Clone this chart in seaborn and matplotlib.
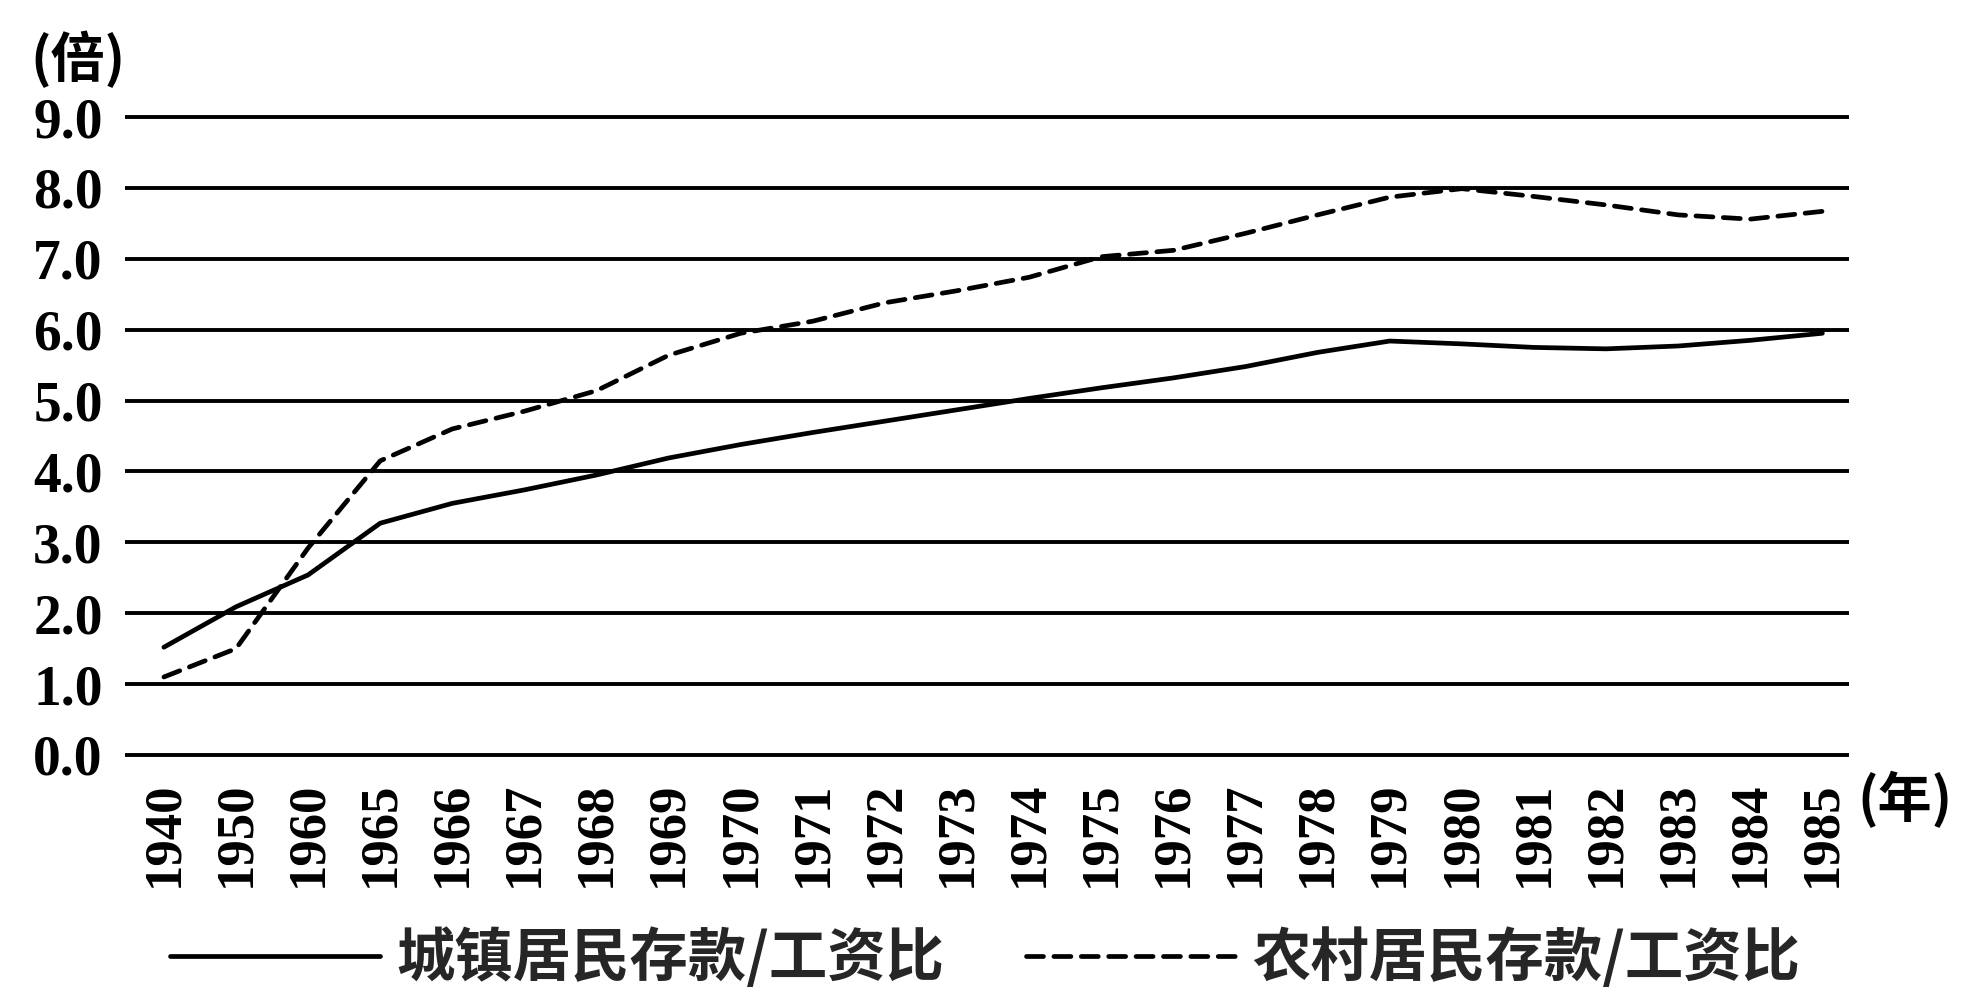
import pandas as pd
import matplotlib
matplotlib.use('Agg')
import matplotlib.pyplot as plt
import seaborn as sns
from matplotlib.font_manager import FontProperties

# Data
years = ['1940', '1950', '1960', '1965', '1966', '1967', '1968', '1969',
         '1970', '1971', '1972', '1973', '1974', '1975', '1976', '1977',
         '1978', '1979', '1980', '1981', '1982', '1983', '1984', '1985']
urban = [1.52, 2.09, 2.54, 3.27, 3.55, 3.74, 3.95, 4.19,
         4.38, 4.55, 4.71, 4.87, 5.03, 5.18, 5.32, 5.48,
         5.68, 5.84, 5.80, 5.75, 5.73, 5.77, 5.85, 5.95]
rural = [1.10, 1.50, 2.92, 4.15, 4.60, 4.85, 5.14, 5.64,
         5.95, 6.12, 6.38, 6.55, 6.74, 7.03, 7.12, 7.36,
         7.62, 7.87, 7.99, 7.88, 7.76, 7.62, 7.56, 7.67]
urban_name = '城镇居民存款/工资比'
rural_name = '农村居民存款/工资比'
y_ticks = [0, 1, 2, 3, 4, 5, 6, 7, 8, 9]

df = pd.DataFrame({
    'year': years * 2,
    'ratio': urban + rural,
    'series': [urban_name] * len(years) + [rural_name] * len(years),
})

sns.set_theme(style='white')
plt.rcParams['font.family'] = ['Liberation Serif', 'Noto Sans CJK SC', 'DejaVu Sans']

fig = plt.figure(figsize=(19.74, 9.99), dpi=100)
ax = fig.add_axes([0.0633, 0.2372, 0.8734, 0.6527])

sns.lineplot(data=df, x='year', y='ratio', style='series', ax=ax,
             color='black', linewidth=3.4, legend=False, sort=False,
             dashes={urban_name: '', rural_name: (3.6, 2.2)})
for line in ax.get_lines():
    line.set_linewidth(3.4)
    line.set_solid_capstyle('round')
    line.set_dash_capstyle('round')
    line.set_solid_joinstyle('round')

ax.set_xlim(-0.54, 23.37)
ax.set_ylim(-0.1, 9.1)
ax.set_yticks(y_ticks)
ax.set_yticklabels([f'{v:.1f}' for v in y_ticks])
ax.yaxis.grid(True, color='black', linewidth=2.8, solid_capstyle='round')
ax.set_axisbelow(True)
for s in ax.spines.values():
    s.set_visible(False)
ax.set_xlabel('')
ax.set_ylabel('')

ax.tick_params(axis='y', length=0, pad=16, labelsize=40, labelcolor='black')
ax.tick_params(axis='x', length=0, pad=14, labelsize=38, labelcolor='black')
for lab in ax.get_yticklabels() + ax.get_xticklabels():
    lab.set_fontweight('bold')
    lab.set_family('Liberation Serif')
for lab in ax.get_xticklabels():
    lab.set_rotation(90)

unit_font = dict(family=['Noto Sans CJK SC'], fontweight='bold', fontsize=39, color='black')
fig.text(0.0395, 0.94, '(倍)', ha='center', va='center', **unit_font)
fig.text(0.965, 0.199, '(年)', ha='center', va='center', **unit_font)

handles = ax.get_lines()[:2]
fig.legend(handles, [urban_name, rural_name], loc='center',
           bbox_to_anchor=(0.499, 0.04), ncol=2, frameon=False,
           prop=FontProperties(family='Noto Sans CJK SC', weight='bold', size=42),
           handlelength=3.6, handletextpad=0.28, columnspacing=1.4,
           borderpad=0, borderaxespad=0)

fig.savefig('out.png', dpi=100, facecolor='white')
